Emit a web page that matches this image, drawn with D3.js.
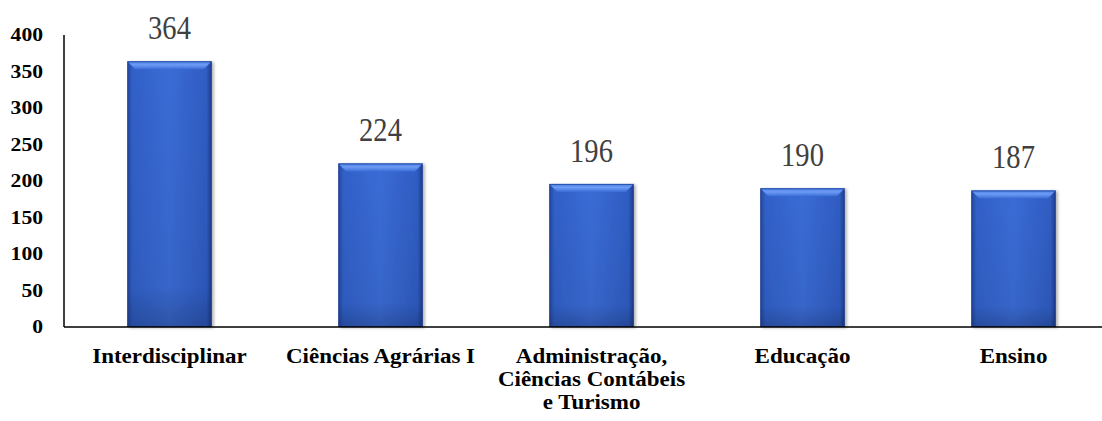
<!DOCTYPE html>
<html>
<head>
<meta charset="utf-8">
<script src="https://cdn.jsdelivr.net/npm/d3@7"></script>
<style>
  body { margin: 0; background: #fff; }
  svg text { font-family: 'Liberation Serif', 'DejaVu Serif', serif; }
</style>
</head>
<body>
<script>
// chart data
const categories = [
  ['Interdisciplinar'],
  ['Ciências Agrárias I'],
  ['Administração,', 'Ciências Contábeis', 'e Turismo'],
  ['Educação'],
  ['Ensino']
];
const values = [364, 224, 196, 190, 187];
const yTicks = [0, 50, 100, 150, 200, 250, 300, 350, 400];

const width = 1102;
const height = 421;

const svg = d3.select('body')
  .append('svg')
  .attr('width', width)
  .attr('height', height);

const defs = svg.append('defs');

// horizontal shading: darker edges, lighter middle
const grad = defs.append('linearGradient')
  .attr('id', 'barGrad')
  .attr('x1', 0).attr('x2', 1).attr('y1', 0).attr('y2', 0);
grad.append('stop').attr('offset', '0%').attr('stop-color', '#2447a0');
grad.append('stop').attr('offset', '6%').attr('stop-color', '#3160c8');
grad.append('stop').attr('offset', '50%').attr('stop-color', '#3a6cd6');
grad.append('stop').attr('offset', '94%').attr('stop-color', '#2f5cc2');
grad.append('stop').attr('offset', '100%').attr('stop-color', '#1d3c8c');

// vertical darkening toward the bottom
const vgrad = defs.append('linearGradient')
  .attr('id', 'barShade')
  .attr('x1', 0).attr('x2', 0).attr('y1', 0).attr('y2', 1);
vgrad.append('stop').attr('offset', '0%').attr('stop-color', '#000').attr('stop-opacity', 0);
vgrad.append('stop').attr('offset', '85%').attr('stop-color', '#000').attr('stop-opacity', 0.06);
vgrad.append('stop').attr('offset', '100%').attr('stop-color', '#000').attr('stop-opacity', 0.22);

const topGrad = defs.append('linearGradient')
  .attr('id', 'topGrad')
  .attr('x1', 0).attr('x2', 0).attr('y1', 0).attr('y2', 1);
topGrad.append('stop').attr('offset', '0%').attr('stop-color', '#4a7ee6');
topGrad.append('stop').attr('offset', '45%').attr('stop-color', '#6d9cf5');
topGrad.append('stop').attr('offset', '100%').attr('stop-color', '#3a6cd6');

const filter = defs.append('filter').attr('id', 'shadow')
  .attr('x', '-10%').attr('y', '-10%').attr('width', '130%').attr('height', '130%');
filter.append('feDropShadow')
  .attr('dx', 2).attr('dy', 1).attr('stdDeviation', 1.5)
  .attr('flood-color', '#000').attr('flood-opacity', 0.3);

const x = d3.scaleBand()
  .domain(d3.range(categories.length))
  .range([64, 1119])
  .paddingInner(0.6)
  .paddingOuter(0.3);

const y = d3.scaleLinear()
  .domain([0, 400])
  .range([327, 35]);

const cx = i => x(i) + x.bandwidth() / 2;

// bars
const bars = svg.selectAll('.bar')
  .data(values)
  .join('g')
  .attr('class', 'bar')
  .attr('filter', 'url(#shadow)');

bars.append('rect')
  .attr('x', (d, i) => x(i))
  .attr('y', d => y(d))
  .attr('width', x.bandwidth())
  .attr('height', d => y(0) - y(d))
  .attr('fill', 'url(#barGrad)');

bars.append('rect')
  .attr('x', (d, i) => x(i))
  .attr('y', d => y(d))
  .attr('width', x.bandwidth())
  .attr('height', d => y(0) - y(d))
  .attr('fill', 'url(#barShade)');

// top bevel
bars.append('path')
  .attr('d', (d, i) => {
    const x0 = x(i), x1 = x(i) + x.bandwidth(), t = y(d), b = 8;
    return `M${x0},${t}L${x1},${t}L${x1 - b},${t + b}L${x0 + b},${t + b}Z`;
  })
  .attr('fill', 'url(#topGrad)');

bars.append('rect')
  .attr('x', (d, i) => x(i) + 0.5)
  .attr('y', d => y(d) + 0.5)
  .attr('width', x.bandwidth() - 1)
  .attr('height', d => y(0) - y(d) - 1)
  .attr('fill', 'none')
  .attr('stroke', '#1d3d8f')
  .attr('stroke-width', 1)
  .attr('stroke-opacity', 0.7);

// value labels (narrow, tall digits in the original)
svg.selectAll('.value')
  .data(values)
  .join('text')
  .attr('class', 'value')
  .attr('transform', (d, i) => `translate(${cx(i)},${y(d) - 22}) scale(0.84,1)`)
  .attr('text-anchor', 'middle')
  .style('font-size', '34px')
  .attr('fill', '#404040')
  .text(d => d);

// y axis line
svg.append('line')
  .attr('x1', 64).attr('x2', 64)
  .attr('y1', y(400)).attr('y2', y(0))
  .attr('stroke', '#000').attr('stroke-width', 1.5);

// baseline
svg.append('line')
  .attr('x1', 64).attr('x2', width)
  .attr('y1', y(0)).attr('y2', y(0))
  .attr('stroke', '#000').attr('stroke-width', 1.5);

// y tick labels
svg.selectAll('.ytick')
  .data(yTicks)
  .join('text')
  .attr('class', 'ytick')
  .attr('transform', d => `translate(43,${y(d)}) scale(1.2,1)`)
  .attr('dy', '0.35em')
  .attr('text-anchor', 'end')
  .style('font-size', '18px')
  .style('font-weight', 'bold')
  .text(d => d);

// category labels
const cat = svg.selectAll('.cat')
  .data(categories)
  .join('text')
  .attr('class', 'cat')
  .attr('transform', (d, i) => `translate(${cx(i)},0) scale(1.15,1)`)
  .attr('text-anchor', 'middle')
  .style('font-size', '20px')
  .style('font-weight', 'bold');

cat.selectAll('tspan')
  .data(d => d)
  .join('tspan')
  .attr('x', 0)
  .attr('y', (d, j) => 363 + j * 23)
  .text(d => d);
</script>
</body>
</html>
